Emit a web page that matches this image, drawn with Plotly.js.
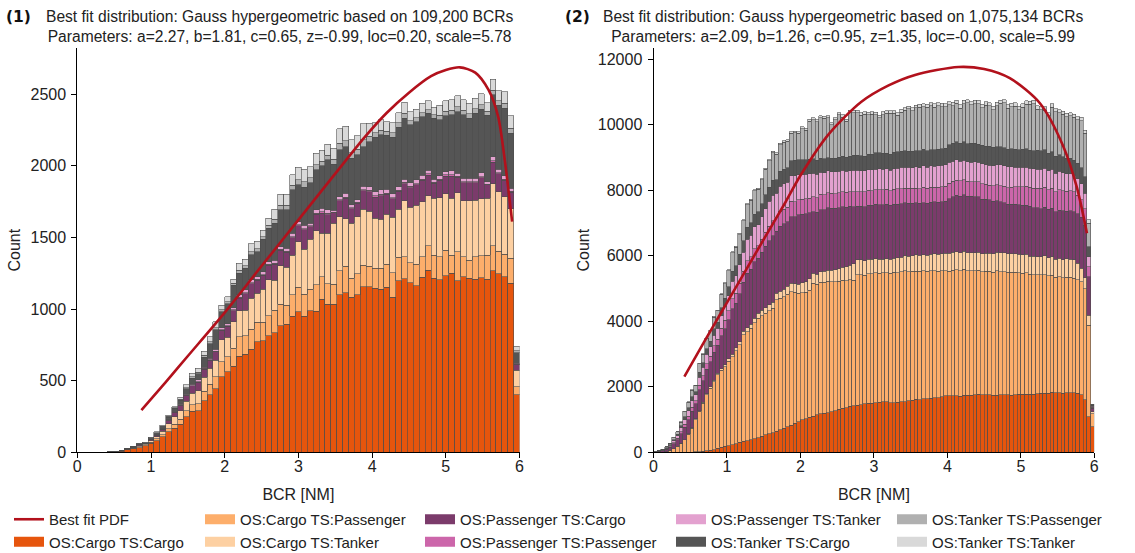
<!DOCTYPE html>
<html><head><meta charset="utf-8">
<script src="https://cdn.plot.ly/plotly-3.0.1.min.js"></script>
<style>html,body{margin:0;padding:0;background:#fff}#chart{width:1135px;height:553px}</style>
</head><body><div id="chart"></div>
<script>
// ---------- DATA ----------
const seriesNames = ['OS:Cargo TS:Cargo','OS:Cargo TS:Passenger','OS:Cargo TS:Tanker','OS:Passenger TS:Cargo','OS:Passenger TS:Passenger','OS:Passenger TS:Tanker','OS:Tanker TS:Cargo','OS:Tanker TS:Passenger','OS:Tanker TS:Tanker'];

// Panel (1): 75 bins of 0.08 NM from 0 to 6
const binStart1 = 0, binWidth1 = 0.08;
const cc1 = [0,0,0,0,0, 3,4,9,21,25, 32,46,63,81,109, 144,167,195,249,288, 291,360,400,442,528, 563,602,672,686,719, 772,779,812,835,884, 893,951,981,951,988, 986,1068,1035,1035,1100, 1114,1082,1098,1156,1156, 1144,1137,1151,1082,1196, 1212,1184,1161,1221,1272, 1214,1203,1231,1249,1196, 1226,1214,1207,1219,1207, 1268,1245,1226,1180,400];
const cp1 = [0,0,0,0,0, 0,1,2,2,4, 6,5,7,12,15, 22,30,36,40,45, 47,65,75,86,105, 105,123,135,128,140, 135,128,142,158,151, 135,147,170,151,149, 182,158,140,137,168, 186,133,147,151,144, 140,147,160,172,165, 154,140,151,144,170, 163,163,181,128,205, 140,128,158,154,170, 175,160,156,175,58];
const ct1 = [0,0,0,0,0, 0,0,1,2,5, 8,7,12,17,22, 35,51,58,66,80, 93,100,110,116,151, 135,186,182,179,216, 202,230,249,209,268, 263,279,319,316,349, 377,303,354,426,377, 330,384,400,390,384, 349,342,349,386,335, 389,386,414,384,349, 396,412,391,396,412, 391,414,396,396,396, 430,414,403,344,116];
const pc1 = [0,0,0,0,0, 0,0,0,2,3, 5,4,7,10,14, 20,32,36,40,50, 59,56,58,59,68, 76,78,87,112,102, 93,98,102,112,106, 106,121,112,134,90, 118,140,130,74,112, 142,102,94,128,136, 149,164,140,130,126, 121,138,140,149,143, 106,121,125,154,108, 125,125,121,147,93, 153,125,115,115,38];
const pp1 = [0,0,0,0,0, 0,0,0,0,0, 0,0,1,1,1, 1,2,2,3,3, 4,4,4,4,4, 5,5,5,7,6, 6,6,6,7,7, 7,8,7,8,6, 7,9,8,5,7, 9,6,6,8,9, 9,10,9,8,8, 8,9,9,9,9, 7,8,8,10,7, 8,8,8,9,6, 10,8,7,7,2];
const pt1 = [0,0,0,0,0, 0,0,0,0,1, 1,1,1,2,2, 4,6,7,7,9, 11,10,10,11,13, 14,15,17,21,20, 17,19,20,21,20, 20,22,21,26,16, 22,26,25,14,21, 26,20,17,24,25, 28,31,26,25,24, 22,25,26,28,27, 20,22,23,29,20, 23,23,22,28,17, 28,23,22,22,7];
const tc1 = [0,0,0,0,0, 0,0,0,1,3, 5,4,9,12,15, 20,18,28,38,42, 42,70,100,136,112, 140,158,151,151,175, 175,226,233,256,256, 268,303,256,263,284, 279,296,349,321,326, 326,326,314,275,314, 379,384,379,396,414, 426,403,407,407,396, 426,391,389,389,430, 442,419,454,442,465, 430,449,472,384,74];
const tp1 = [0,0,0,0,0, 0,0,0,0,1, 1,1,2,2,3, 4,4,7,8,10, 12,13,15,17,14, 14,12,21,19,23, 22,20,21,29,33, 33,32,37,38,34, 35,32,33,33,45, 43,38,40,49,38, 31,32,28,31,31, 34,28,26,28,26, 23,31,32,32,34, 32,32,32,32,26, 33,30,35,36,14];
const tt1 = [0,0,0,0,0, 0,0,0,0,1, 2,2,3,5,7, 10,8,15,19,24, 27,29,35,41,33, 34,28,49,44,54, 52,45,49,69,76, 76,73,86,90,78, 81,75,76,76,104, 101,90,93,114,90, 71,73,65,71,71, 78,65,60,65,62, 54,71,75,73,78, 73,73,73,75,60, 76,70,81,85,33];

// Panel (2): 120 bins of 0.05 NM from 0 to 6
const binStart2 = 0, binWidth2 = 0.05;
const cc2 = [0,0,0,0,0, 0,0,2,3,5, 8,10,15,25,40, 60,85,122,150,185, 205,224,260,300,330, 355,377,420,450,490, 529,560,600,640,690, 733,780,830,880,935,
 990,1020,1070,1100,1139, 1180,1190,1215,1240,1262, 1310,1343,1365,1402,1414, 1435,1455,1475,1498,1505, 1520,1535,1546,1538,1520, 1516,1522,1540,1546,1570, 1595,1617,1612,1635,1640, 1649,1665,1672,1700,1719,
 1722,1728,1730,1712,1740, 1738,1745,1750,1765,1752, 1750,1755,1738,1748,1752, 1750,1750,1742,1760,1765, 1771,1775,1780,1778,1795, 1801,1805,1810,1830,1818, 1821,1805,1822,1820,1821, 1800,1760,1600,1088,780];
const cp2 = [0,0,5,20,60, 110,173,268,374,545, 725,990,1235,1475,1710, 1894,2065,2239,2350,2430, 2575,2697,2840,2977,3252, 3325,3409,3530,3641,3680, 3715,3760,3796,4011,4010, 4020,4050,4075,4000,3919,
 3880,3864,3880,4060,3990, 4015,4000,4010,3971,3940, 3910,3905,3875,3860,3846, 3979,3965,3925,3950,3945, 3965,3935,3939,3950,3945, 3984,3965,3965,3990,3945, 3925,3913,3910,3905,3880, 3897,3885,3860,3840,3827,
 3810,3825,3837,3830,3850, 3810,3805,3797,3790,3755, 3772,3766,3766,3790,3766, 3766,3740,3750,3730,3712, 3694,3700,3662,3646,3630, 3613,3620,3585,3570,3530, 3542,3530,3517,3525,3491, 3470,3440,3400,2797,400];
const ct2 = [0,0,0,1,2, 4,6,8,10,15, 18,22,26,30,35, 40,45,50,55,60, 70,80,90,100,110, 120,130,140,150,160, 170,180,190,200,210, 220,235,250,265,284,
 310,330,350,305,310, 320,330,340,349,365, 380,400,420,450,490, 457,455,450,445,438, 430,421,407,420,425, 430,450,455,465,475, 485,494,495,495,495, 504,505,515,528,529,
 540,550,559,556,553, 550,549,548,551,554, 557,559,563,567,571, 575,579,574,569,564, 559,575,548,562,540, 559,570,552,566,545, 559,548,565,553,559, 500,420,330,306,60];
const pc2 = [5,23,38,67,94, 151,199,290,376,432, 507,455,634,657,746, 766,857,851,1003,1102, 1195,1375,1359,1456,1496, 1673,1676,1734,1680,1775, 1873,1956,2021,1891,1991, 1998,1967,2039,2044,2107,
 2095,2070,2020,1880,1886, 1890,1891,1894,1897,1884, 1871,1848,1826,1793,1750, 1636,1640,1642,1644,1648, 1654,1660,1666,1664,1655, 1646,1637,1628,1619,1610, 1601,1588,1588,1589,1590, 1586,1587,1588,1586,1585,
 1670,1700,1729,1725,1721, 1718,1714,1710,1690,1669, 1649,1628,1604,1579,1555, 1530,1506,1511,1516,1521, 1526,1500,1520,1480,1500, 1460,1490,1470,1485,1455, 1475,1490,1460,1480,1470, 1510,1560,1600,1171,100];
const pp2 = [1,5,9,15,21, 34,45,66,86,98, 115,103,144,149,170, 174,195,194,228,251, 272,313,309,331,340, 380,381,394,382,404, 426,445,459,430,452, 454,447,464,464,458,
 445,460,440,455,450, 470,445,460,450,440, 455,465,450,445,460, 450,440,455,465,450, 445,460,450,455,440, 450,465,455,445,460, 450,455,440,465,450, 455,445,460,450,458,
 470,465,458,470,458, 458,445,458,458,470, 458,450,468,478,489, 499,509,522,535,547, 560,570,580,590,601, 625,611,600,611,611, 620,611,600,610,610, 570,530,500,306,30];
const pt2 = [2,9,15,26,36, 58,77,112,145,167, 196,176,245,254,288, 296,331,329,387,426, 462,531,525,563,578, 646,647,670,649,686, 724,756,781,731,769, 772,760,788,790,763,
 752,741,745,718,707, 680,684,673,661,670, 657,655,640,650,648, 660,644,642,625,638, 635,645,631,633,625, 636,638,655,642,644, 630,647,649,665,653, 654,640,658,660,661,
 640,620,615,600,600, 590,600,612,605,610, 600,610,615,620,640, 628,631,620,600,600, 590,588,586,595,582, 580,576,572,575,564, 560,547,534,521,509, 500,490,480,305,30];
const tc2 = [1,4,8,14,20, 30,48,60,90,95, 120,98,150,140,176, 168,200,188,235,245, 280,305,318,325,348, 372,390,385,390,398, 432,438,465,425,458, 448,452,458,470,458,
 453,446,441,450,429, 424,419,400,407,413, 430,425,431,436,455, 447,453,445,465,471, 490,482,488,475,490, 492,505,494,495,485, 498,499,510,501,502, 495,505,506,507,509,
 540,550,560,545,560, 560,575,560,550,560, 560,570,556,552,548, 555,539,542,544,535, 549,553,545,562,566, 570,558,545,533,520, 508,495,483,470,458, 470,490,500,306,30];
const tp2 = [1,9,16,27,38, 62,81,118,154,177, 207,186,259,269,305, 313,350,348,410,451, 489,563,556,595,612, 684,685,709,687,726, 766,800,827,774,814, 818,805,834,836,815,
 958,902,1167,1192,1185, 1230,1242,1217,1026,1177, 1286,1194,1100,1334,1311, 1310,1236,1286,1212,1221, 1168,1076,1185,1217,1247, 1197,1104,1197,1237,1299, 1248,1300,1329,1300,1330, 1339,1308,1317,1286,1254,
 1213,1137,1163,1070,1153, 1243,1174,1213,1234,1151, 1249,1239,1152,1245,1330, 1364,1254,1281,1311,1218, 1285,1366,1406,1430,1256, 1244,1218,1143,1369,1350, 1275,1294,1269,1290,1305, 1328,1437,1330,712,40];
const tt2 = [0,0,0,2,3, 5,5,6,8,10, 12,11,15,15,16, 18,19,19,23,24, 27,31,31,33,35, 39,38,39,39,40, 42,44,47,42,46, 46,45,46,47,50,
 55,55,58,58,60, 60,62,62,64,64, 66,66,68,68,70, 70,72,72,74,74, 76,76,78,78,80, 80,82,82,84,84, 86,86,88,88,90, 92,94,96,98,100,
 100,105,95,100,110, 100,95,105,100,100, 110,95,100,105,100, 95,100,110,100,100, 105,100,95,100,110, 100,100,95,105,100, 100,95,100,105,100, 100,100,98,102,4];

// Best fit PDF curves
const pdf1X = [0.87, 1.2, 1.5, 2.0, 2.5, 3.0, 3.5, 3.9, 4.2, 4.5, 4.8, 5.0, 5.19, 5.4, 5.58, 5.71, 5.8, 5.9];
const pdf1Y = [295, 490, 672, 975, 1300, 1622, 1945, 2200, 2370, 2510, 2625, 2668, 2687, 2650, 2529, 2343, 2040, 1610];
const pdf2X = [0.42, 0.6, 0.8, 1.0, 1.2, 1.5, 1.8, 2.0, 2.38, 2.83, 3.2, 3.56, 4.15, 4.5, 4.85, 5.26, 5.58, 5.76, 5.9];
const pdf2Y = [2308, 3020, 3800, 4570, 5340, 6500, 7650, 8450, 9700, 10700, 11200, 11520, 11763, 11700, 11420, 10655, 9330, 8109, 6686];

const title1 = 'Best fit distribution: Gauss hypergeometric based on 109,200 BCRs<br>Parameters: a=2.27, b=1.81, c=0.65, z=-0.99, loc=0.20, scale=5.78';
const title2 = 'Best fit distribution: Gauss hypergeometric based on 1,075,134 BCRs<br>Parameters: a=2.09, b=1.26, c=0.95, z=1.35, loc=-0.00, scale=5.99';

// ---------- STYLE ----------
const colors = ['#e6550d','#fdae6b','#fdd0a2','#7b3b6b','#cc66aa','#e3a1cf','#555555','#b0b0b0','#d9d9d9'];
const W = 1135, H = 553;
const px = v => v / W, py = v => 1 - v / H;
const FONT = 'Liberation Sans, Arial, sans-serif';
const panel1 = [cc1, cp1, ct1, pc1, pp1, pt1, tc1, tp1, tt1];
const panel2 = [cc2, cp2, ct2, pc2, pp2, pt2, tc2, tp2, tt2];
panel1.forEach((a, i) => { if (a.length !== 75) throw new Error('panel1 series ' + i + ' len ' + a.length); });
panel2.forEach((a, i) => { if (a.length !== 120) throw new Error('panel2 series ' + i + ' len ' + a.length); });

const traces = [];
function addBars(arrs, start, w, xa, ya) {
  arrs.forEach((arr, k) => {
    traces.push({
      type: 'bar', name: seriesNames[k], x0: start + w / 2, dx: w, y: arr, width: w,
      xaxis: xa, yaxis: ya, showlegend: false,
      marker: { color: colors[k], line: { color: '#4d4d4d', width: 0.6 } },
      hovertemplate: seriesNames[k] + ': %{y}<extra></extra>'
    });
  });
}
addBars(panel1, binStart1, binWidth1, 'x', 'y');
addBars(panel2, binStart2, binWidth2, 'x2', 'y2');

const lineStyle = { color: '#b2111c', width: 2.6, shape: 'spline', smoothing: 0.8 };
traces.push({ type: 'scatter', mode: 'lines', name: 'Best fit PDF', x: pdf1X, y: pdf1Y, xaxis: 'x', yaxis: 'y', line: lineStyle, legend: 'legend', legendrank: 1 });
traces.push({ type: 'scatter', mode: 'lines', name: 'Best fit PDF', x: pdf2X, y: pdf2Y, xaxis: 'x2', yaxis: 'y2', line: lineStyle, showlegend: false });

// legend entries (patch-like swatches), arranged column-wise as in the reference
const legendOf = ['legend', 'legend2', 'legend2', 'legend3', 'legend3', 'legend4', 'legend4', 'legend5', 'legend5'];
seriesNames.forEach((n, k) => {
  traces.push({ type: 'scatter', mode: 'lines', name: n, x: [null], y: [null], xaxis: 'x', yaxis: 'y',
    line: { color: colors[k], width: 14 }, legend: legendOf[k], legendrank: 2 + k, hoverinfo: 'skip' });
});

const axisCommon = {
  showgrid: false, zeroline: false, showline: true, linecolor: '#000', linewidth: 1,
  ticks: 'outside', ticklen: 5, tickwidth: 1, tickcolor: '#000', ticklabelstandoff: 2,
  tickfont: { family: FONT, size: 16, color: '#222' }
};
const legCommon = { orientation: 'v', xanchor: 'left', yanchor: 'top', bgcolor: 'rgba(0,0,0,0)', borderwidth: 0,
  traceorder: 'normal', font: { family: FONT, size: 15, color: '#222' }, itemwidth: 30, tracegroupgap: 0 };
const legY = py(503);

const layout = {
  width: W, height: H, margin: { l: 0, r: 0, t: 0, b: 0, autoexpand: false },
  paper_bgcolor: '#fff', plot_bgcolor: '#fff',
  barmode: 'stack', bargap: 0,
  font: { family: FONT, color: '#222' },
  xaxis: Object.assign({}, axisCommon, { domain: [px(77.3), px(519.5)], range: [0, 6], dtick: 1, anchor: 'y', ticklabelstandoff: -6,
    title: { text: 'BCR [NM]', font: { family: FONT, size: 16, color: '#222' }, standoff: 15 } }),
  yaxis: Object.assign({}, axisCommon, { domain: [py(452.3), py(48)], range: [0, 2822], dtick: 500, anchor: 'x', tickformat: 'd',
    title: { text: 'Count', font: { family: FONT, size: 16, color: '#222' }, standoff: 5 } }),
  xaxis2: Object.assign({}, axisCommon, { domain: [px(653.5), px(1094.3)], range: [0, 6], dtick: 1, anchor: 'y2', ticklabelstandoff: -6,
    title: { text: 'BCR [NM]', font: { family: FONT, size: 16, color: '#222' }, standoff: 15 } }),
  yaxis2: Object.assign({}, axisCommon, { domain: [py(452.3), py(48)], range: [0, 12343], dtick: 2000, anchor: 'x2', tickformat: 'd',
    title: { text: 'Count', font: { family: FONT, size: 16, color: '#222' }, standoff: 4 } }),
  legend: Object.assign({}, legCommon, { x: px(9), y: legY }),
  legend2: Object.assign({}, legCommon, { x: px(200), y: legY }),
  legend3: Object.assign({}, legCommon, { x: px(420), y: legY }),
  legend4: Object.assign({}, legCommon, { x: px(671), y: legY }),
  legend5: Object.assign({}, legCommon, { x: px(892), y: legY }),
  annotations: [
    { text: '<b>(1)</b>', x: px(18), y: py(17), xref: 'paper', yref: 'paper', showarrow: false, xanchor: 'center', yanchor: 'middle',
      font: { family: 'DejaVu Sans, sans-serif', size: 15.5, color: '#111' } },
    { text: title1, x: px(279), y: py(26.5), xref: 'paper', yref: 'paper', showarrow: false, xanchor: 'center', yanchor: 'middle',
      font: { family: FONT, size: 15.6, color: '#222' } },
    { text: '<b>(2)</b>', x: px(577.5), y: py(17), xref: 'paper', yref: 'paper', showarrow: false, xanchor: 'center', yanchor: 'middle',
      font: { family: 'DejaVu Sans, sans-serif', size: 15.5, color: '#111' } },
    { text: title2, x: px(843), y: py(26.5), xref: 'paper', yref: 'paper', showarrow: false, xanchor: 'center', yanchor: 'middle',
      font: { family: FONT, size: 15.6, color: '#222' } }
  ]
};

Plotly.newPlot('chart', traces, layout, { staticPlot: true, displayModeBar: false });
</script>
</body></html>
